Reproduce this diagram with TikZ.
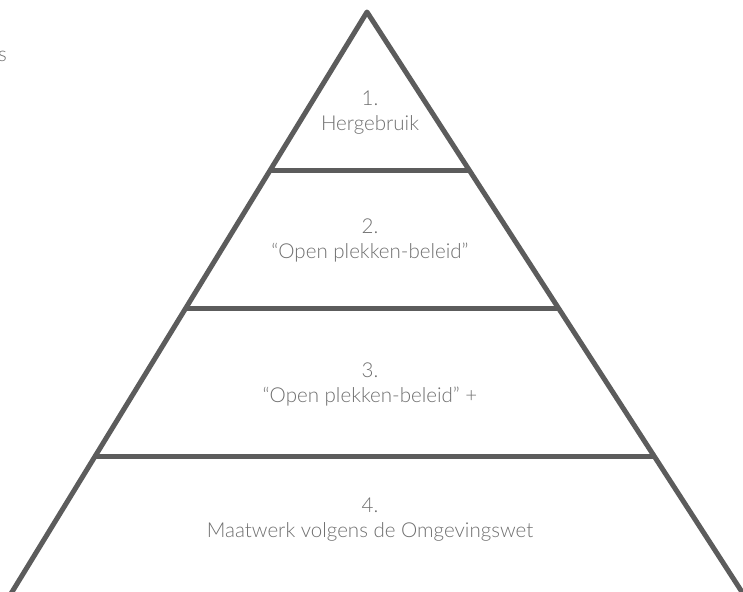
\documentclass[tikz,border=0pt]{standalone}
\usepackage{fontspec}
\setmainfont{Lato}[UprightFont={* Light}]
\usetikzlibrary{calc}
\definecolor{linegray}{HTML}{5C5C5C}
\definecolor{textgray}{HTML}{6F6F6F}
\begin{document}
\begin{tikzpicture}[x=0.75pt,y=-0.75pt,
  edge/.style={draw=linegray, line width=3.75pt, line join=round},
  lbl/.style={text=textgray, font=\fontsize{15.4}{18}\selectfont, anchor=base, inner sep=0pt}]
\useasboundingbox (0,0) rectangle (743,592);
\clip (0,0) rectangle (743,592);
\coordinate (A) at (367,12);
\coordinate (BL) at (12,592);
\coordinate (BR) at (742,592);
\coordinate (BLx) at ($(A)!1.05!(BL)$);
\coordinate (BRx) at ($(A)!1.05!(BR)$);
\coordinate (l1) at ($(A)!0.27328!(BL)$);
\coordinate (r1) at ($(A)!0.27328!(BR)$);
\coordinate (l2) at ($(A)!0.51121!(BL)$);
\coordinate (r2) at ($(A)!0.51121!(BR)$);
\coordinate (l3) at ($(A)!0.76552!(BL)$);
\coordinate (r3) at ($(A)!0.76552!(BR)$);
\draw[edge] (BLx) -- (A) -- (BRx);
\draw[edge] (l1) -- (r1);
\draw[edge] (l2) -- (r2);
\draw[edge] (l3) -- (r3);
\node[lbl] (n1) at (370,106) {1.};
\node[lbl] (t1) at (370,131) {Hergebruik};
\node[lbl] (n2) at (370,233) {2.};
\node[lbl] (t2) at (370,258) {“Open plekken-beleid”};
\node[lbl] (n3) at (370,377) {3.};
\node[lbl] (t3) at (370,402) {“Open plekken-beleid” +};
\node[lbl] (n4) at (370,512) {4.};
\node[lbl] (t4) at (370,537) {Maatwerk volgens de Omgevingswet};
\node[lbl, anchor=base east] (s) at (7,62) {s};
\end{tikzpicture}
\end{document}
